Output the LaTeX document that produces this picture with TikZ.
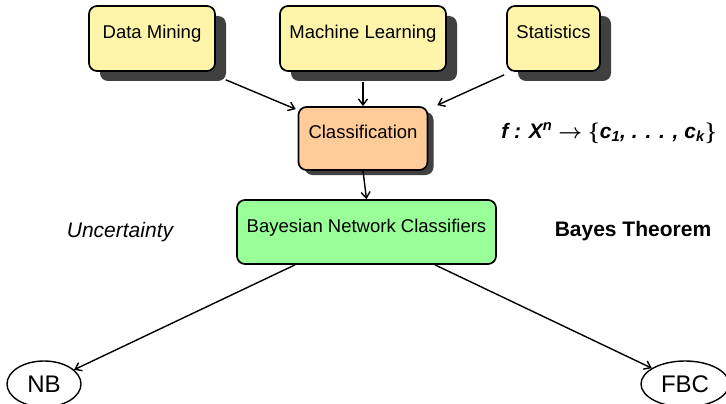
\documentclass[tikz,border=0pt]{standalone}
\usepackage{fontspec}
\setmainfont{Liberation Sans}
\usetikzlibrary{shadows,calc,arrows.meta,shapes.geometric}
\definecolor{ybox}{RGB}{255,245,170}
\definecolor{pbox}{RGB}{255,204,153}
\definecolor{gbox}{RGB}{153,255,153}
\definecolor{shgray}{RGB}{64,64,64}
\begin{document}
\begin{tikzpicture}[x=1pt,y=-1pt,
  box/.style={draw, line width=1.7pt, rounded corners=8pt, inner sep=0pt,
    font=\fontsize{18.5}{20}\selectfont},
  shbox/.style={box, drop shadow={shadow xshift=11pt, shadow yshift=-10pt, fill=shgray, opacity=1}},
  smallsh/.style={box, drop shadow={shadow xshift=6pt, shadow yshift=-5pt, fill=shgray, opacity=1}},
  ell/.style={draw, ellipse, line width=1.4pt, inner sep=0pt, font=\fontsize{24}{26}\selectfont},
  arr/.style={line width=1.4pt, -{Straight Barb[length=6pt,width=9pt]}},
  side/.style={inner sep=0pt, font=\fontsize{21}{23}\selectfont}
]
\useasboundingbox (0,0) rectangle (726,404);
% top boxes
\node[shbox, fill=ybox, minimum width=126pt, text height=32.5pt, text depth=32.5pt] (dm) at (152,38.5) {Data Mining};
\node[shbox, fill=ybox, minimum width=166pt, text height=32.5pt, text depth=32.5pt] (ml) at (363,38.5) {Machine Learning};
\node[shbox, fill=ybox, minimum width=93pt, text height=32.5pt, text depth=32.5pt] (st) at (553.5,38.5) {Statistics};
% classification
\node[smallsh, fill=pbox, minimum width=129pt, text height=31.5pt, text depth=31.5pt] (cls) at (363,138.5) {Classification};
% bayesian
\node[box, fill=gbox, minimum width=259pt, text height=32pt, text depth=32pt] (bay) at (366.5,232) {Bayesian Network Classifiers};
% leaves
\node[ell, minimum width=74pt, minimum height=46pt] (nb) at (44,384) {NB};
\node[ell, minimum width=88pt, minimum height=46pt] (fbc) at (685,384) {FBC};
% side texts
\node[side] (unc) at (120,232) {\itshape Uncertainty};
\node[side] (bt) at (633,231) {\bfseries Bayes Theorem};
\node[side, font=\fontsize{21}{23}\selectfont] (fm) at (609,133)
  {\bfseries\itshape f : X\textsuperscript{n} {\boldmath$\rightarrow$} {\boldmath$\{$}c\textsubscript{1}, . . . , c\textsubscript{k}{\boldmath$\}$}};
% arrows
\draw[arr] ($(dm.south east)+(10,8)$) -- ($(cls.north west)+(-2,3)$);
\draw[arr] ($(ml.south)+(0,10)$) -- (cls.north);
\draw[arr] ($(st.south west)+(-2,3)$) -- ($(cls.north east)+(9,-1)$);
\draw[arr] (cls.south) -- (bay.north);
\draw[arr] ($(bay.south)+(-71.5,0)$) -- (nb);
\draw[arr] ($(bay.south)+(68.5,0)$) -- (fbc);
\end{tikzpicture}
\end{document}
